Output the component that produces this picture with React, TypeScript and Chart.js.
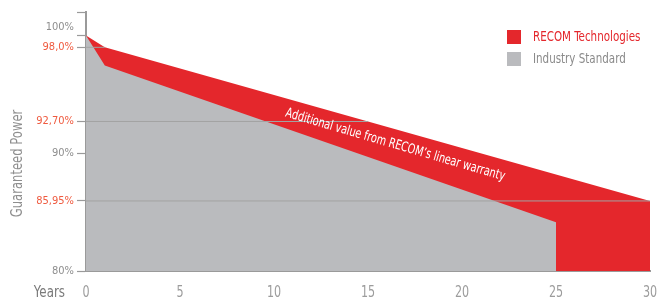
import React, { useEffect, useRef } from "react";
import { Chart, registerables } from "chart.js";

Chart.register(...registerables);

// ---- data ----
const recomYears = [0, 1, 15, 30];
const recomValues = [100, 99, 92.7, 85.95];
const industryYears = [0, 1, 25, 25];
const industryValues = [100, 97.45, 84.15, 80];
const yTickValues = [80, 85.95, 90, 92.7, 99, 100, 100.7, 102];
const yTickLabels = ["80%", "85,95%", "90%", "92,70%", "98,0%", "", "100%", ""];
const highlightedTicks = [85.95, 92.7, 99];
const xTickValues = [0, 5, 10, 15, 20, 25, 30];
const seriesNames = ["RECOM Technologies", "Industry Standard"];
const yTitle = "Guaranteed Power";
const xTitle = "Years";
const annotationText = "Additional value from RECOM\u2019s linear warranty";
const annotationAt = { year: 16.45, value: 90.7 };

const RED = "#e4272c";
const GRAY = "#babbbe";
const AXIS = "#9a9a9a";
const TICK_RED = "#ef5a3f";
const TEXT_GRAY = "#8e8e8e";
const FONT = "'DejaVu Sans Condensed', 'Liberation Sans Narrow', 'Roboto', sans-serif";

function drawText(
  ctx: CanvasRenderingContext2D,
  text: string,
  x: number,
  y: number,
  size: number,
  color: string,
  align: CanvasTextAlign,
  sx: number,
  rotation = 0
) {
  ctx.save();
  ctx.translate(x, y);
  ctx.rotate(rotation);
  ctx.scale(sx, 1);
  ctx.font = `${size}px ${FONT}`;
  ctx.fillStyle = color;
  ctx.textAlign = align;
  ctx.textBaseline = "middle";
  ctx.fillText(text, 0, 0);
  ctx.restore();
}

export default function App() {
  const ref = useRef<HTMLCanvasElement | null>(null);

  useEffect(() => {
    document.body.style.margin = "0";
    const canvas = ref.current;
    if (!canvas) return;

    const guides = highlightedTicks.map((v) => {
      const idx = recomValues.indexOf(v);
      return {
        type: "line" as const,
        label: "guide",
        data: [
          { x: 0, y: v },
          { x: recomYears[idx], y: v },
        ],
        borderColor: "#a3a3a3",
        borderWidth: 1,
        pointRadius: 0,
        fill: false,
      };
    });

    const overlay = {
      id: "overlay",
      afterDatasetsDraw(chart: any) {
        const { ctx, scales } = chart;
        const x = scales.x;
        const y = scales.y;
        const x1 = x.getPixelForValue(recomYears[1]);
        const y1 = y.getPixelForValue(recomValues[1]);
        const x2 = x.getPixelForValue(recomYears[3]);
        const y2 = y.getPixelForValue(recomValues[3]);
        const angle = Math.atan2(y2 - y1, x2 - x1) + 0.01;
        const cx = x.getPixelForValue(annotationAt.year);
        const cy = y.getPixelForValue(annotationAt.value);
        drawText(ctx, annotationText, cx, cy, 13.5, "#ffffff", "center", 0.8, angle);
      },
      afterDraw(chart: any) {
        const { ctx, scales } = chart;
        const x = scales.x;
        const y = scales.y;
        const labelY = x.top + 22;
        for (const t of x.ticks) {
          drawText(ctx, String(t.value), x.getPixelForValue(t.value), labelY, 16.5, "#9c9c9c", "center", 0.75);
        }
        drawText(ctx, xTitle, x.left - 21, labelY, 16.5, "#7a7a7a", "right", 0.8);
        drawText(ctx, yTitle, 18, (y.top + y.bottom) / 2 + 22, 15, TEXT_GRAY, "center", 0.86, -Math.PI / 2);
      },
    };

    const chart = new Chart(canvas, {
      type: "line",
      data: {
        datasets: [
          ...guides,
          {
            label: seriesNames[1],
            data: industryYears.map((yr, i) => ({ x: yr, y: industryValues[i] })),
            borderWidth: 0,
            borderColor: GRAY,
            backgroundColor: GRAY,
            pointRadius: 0,
            fill: "start",
            tension: 0,
          },
          {
            label: seriesNames[0],
            data: recomYears.map((yr, i) => ({ x: yr, y: recomValues[i] })),
            borderWidth: 0,
            borderColor: RED,
            backgroundColor: RED,
            pointRadius: 0,
            fill: "start",
            tension: 0,
          },
        ],
      },
      options: {
        animation: false,
        responsive: false,
        layout: { padding: { left: 0, right: 22, top: 12, bottom: 0 } },
        plugins: {
          legend: { display: false },
          tooltip: { enabled: false },
        },
        scales: {
          x: {
            type: "linear",
            min: 0,
            max: 30,
            afterBuildTicks: (scale: any) => {
              scale.ticks = xTickValues.map((v) => ({ value: v }));
            },
            afterFit: (scale: any) => {
              scale.height = 30;
            },
            grid: { display: false, drawTicks: false },
            border: { display: true, color: AXIS, width: 2 },
            ticks: { display: false },
          },
          y: {
            type: "linear",
            min: 80,
            max: 102,
            afterBuildTicks: (scale: any) => {
              scale.ticks = yTickValues.map((v) => ({ value: v }));
            },
            afterFit: (scale: any) => {
              scale.width = 86;
            },
            grid: {
              drawOnChartArea: false,
              drawTicks: true,
              tickLength: 9,
              tickWidth: 1.2,
              tickColor: (ctx: any) =>
                ctx.tick && ctx.tick.value === 100.7 ? "rgba(0,0,0,0)" : AXIS,
            },
            border: { display: true, color: AXIS, width: 2 },
            ticks: {
              padding: 3,
              autoSkip: false,
              font: { family: FONT, size: 11 },
              color: (ctx: any) =>
                ctx.tick && highlightedTicks.includes(ctx.tick.value) ? TICK_RED : TEXT_GRAY,
              callback: (value: any) => {
                const i = yTickValues.indexOf(Number(value));
                return i >= 0 ? yTickLabels[i] : "";
              },
            },
          },
        },
      },
      plugins: [overlay],
    } as any);

    return () => chart.destroy();
  }, []);

  const legendItem = (color: string, text: string, textColor: string, top: number) => (
    <div
      style={{
        position: "absolute",
        left: 507,
        top,
        display: "flex",
        alignItems: "center",
        height: 15,
      }}
    >
      <span style={{ width: 14, height: 14, background: color, display: "inline-block", flex: "none" }} />
      <span
        style={{
          marginLeft: 12,
          color: textColor,
          fontFamily: FONT,
          fontSize: 14,
          lineHeight: "15px",
          whiteSpace: "nowrap",
          display: "inline-block",
          transform: "scaleX(0.82)",
          transformOrigin: "left center",
        }}
      >
        {text}
      </span>
    </div>
  );

  return (
    <div style={{ position: "absolute", left: 0, top: 0, width: 672, height: 301, background: "#fff" }}>
      <canvas ref={ref} width={672} height={301} style={{ display: "block" }} />
      {legendItem(RED, seriesNames[0], RED, 29)}
      {legendItem(GRAY, seriesNames[1], "#8a8a8a", 51)}
    </div>
  );
}
